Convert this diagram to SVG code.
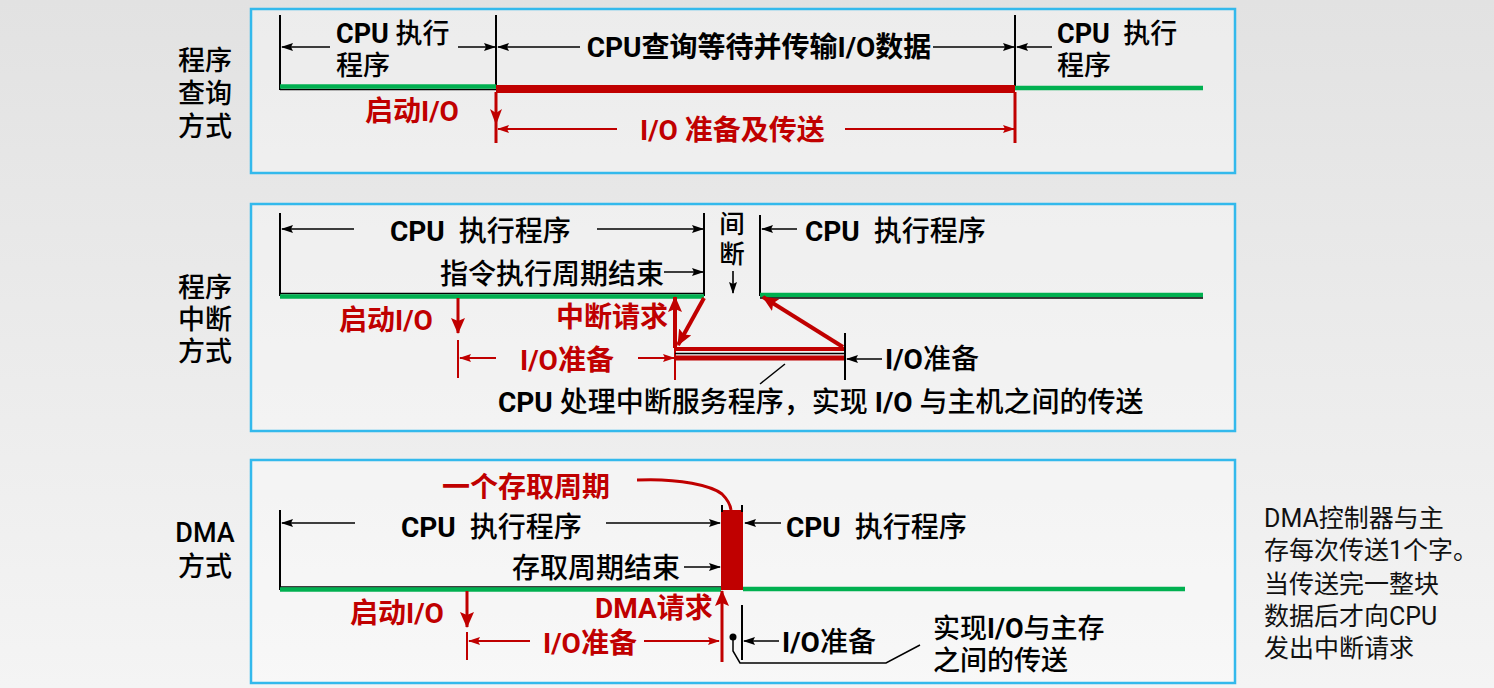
<svg xmlns="http://www.w3.org/2000/svg" width="1494" height="688" viewBox="0 0 1494 688">
<defs>
<linearGradient id="bg" x1="0" y1="0" x2="0" y2="1">
<stop offset="0" stop-color="#e2e2e2"/><stop offset="1" stop-color="#f4f4f4"/>
</linearGradient>
<marker id="ab" markerWidth="12" markerHeight="10" refX="11" refY="5" orient="auto" markerUnits="userSpaceOnUse"><path d="M0,1 L12,5 L0,9 L2,5 z" fill="#000"/></marker>
<marker id="ar" markerWidth="12" markerHeight="10" refX="11" refY="5" orient="auto" markerUnits="userSpaceOnUse"><path d="M0,1 L12,5 L0,9 L2,5 z" fill="#c00000"/></marker>
<marker id="at" markerWidth="16" markerHeight="14" refX="15" refY="7" orient="auto" markerUnits="userSpaceOnUse"><path d="M0,0 L16,7 L0,14 L3,7 z" fill="#c00000"/></marker>
<style>
.panel{fill:#ffffff;fill-opacity:0.35;stroke:#33b9ec;stroke-width:2.5}
.k{stroke:#000;stroke-width:2;fill:none}
.ka{stroke:#000;stroke-width:1.6;fill:none;marker-end:url(#ab)}
.kt{stroke:#000;stroke-width:1.5;fill:none}
.g{stroke:#00b050;stroke-width:4.5;fill:none}
.rl{stroke:#c00000;fill:none}
.ra{stroke:#c00000;stroke-width:2;fill:none;marker-end:url(#ar)}
.rt{stroke:#c00000;fill:none;marker-end:url(#at)}
text{font-family:Roboto,"Noto Sans CJK SC",sans-serif;font-size:28px}
.s{font-size:27px}
.v{font-size:25.5px;text-anchor:middle}
.t{fill:#000;font-weight:500}
.b{font-weight:700}
.r{fill:#c00000;font-weight:700}
.side{fill:#111;font-weight:400;font-size:25px}
.lab{fill:#000;font-weight:500;text-anchor:middle;font-size:27px}
</style>
</defs>
<rect width="1494" height="688" fill="url(#bg)"/>

<g id="labels">
<text class="lab" x="205" y="70">程序</text>
<text class="lab" x="205" y="103">查询</text>
<text class="lab" x="205" y="136">方式</text>
<text class="lab" x="205" y="297">程序</text>
<text class="lab" x="205" y="329">中断</text>
<text class="lab" x="205" y="361">方式</text>
<text class="lab b" x="205" y="542">DMA</text>
<text class="lab" x="205" y="576">方式</text>
</g>

<g id="panel-polling">
<rect class="panel" x="251" y="9" width="984" height="164"/>
<text class="t s" x="336" y="43"><tspan class="b">CPU</tspan> 执行</text>
<text class="t s" x="336" y="75">程序</text>
<text class="t b" x="759" y="57" text-anchor="middle">CPU查询等待并传输I/O数据</text>
<text class="t s" x="1057" y="43"><tspan class="b">CPU</tspan>&#160; 执行</text>
<text class="t s" x="1057" y="75">程序</text>
<text class="r" x="365" y="121">启动I/O</text>
<text class="r" x="640" y="140">I/O 准备及传送</text>
</g>

<g id="panel-interrupt">
<rect class="panel" x="251" y="204" width="984" height="227"/>
<text class="t" x="390" y="241"><tspan class="b">CPU</tspan>&#160; 执行程序</text>
<text class="t" x="440" y="284">指令执行周期结束</text>
<text class="t v" x="732" y="233">间</text>
<text class="t v" x="732" y="263">断</text>
<text class="t" x="805" y="241"><tspan class="b">CPU</tspan>&#160; 执行程序</text>
<text class="r" x="339" y="330">启动I/O</text>
<text class="r" x="556" y="327">中断请求</text>
<text class="r" x="520" y="370">I/O准备</text>
<text class="t" x="885" y="369"><tspan class="b">I/O</tspan>准备</text>
<text class="t" x="498" y="412"><tspan class="b">CPU</tspan> 处理中断服务程序，实现 <tspan class="b">I/O</tspan> 与主机之间的传送</text>
</g>

<g id="panel-dma">
<rect class="panel" x="251" y="460" width="984" height="223"/>
<text class="r" x="442" y="497">一个存取周期</text>
<text class="t" x="401" y="537"><tspan class="b">CPU</tspan>&#160; 执行程序</text>
<text class="t" x="512" y="578">存取周期结束</text>
<text class="t" x="786" y="537"><tspan class="b">CPU</tspan>&#160; 执行程序</text>
<text class="r" x="350" y="623">启动I/O</text>
<text class="r" x="595" y="618">DMA请求</text>
<text class="r" x="543" y="653">I/O准备</text>
<text class="t" x="782" y="652"><tspan class="b">I/O</tspan>准备</text>
<text class="t s" x="933" y="638">实现<tspan class="b">I/O</tspan>与主存</text>
<text class="t s" x="933" y="670">之间的传送</text>
</g>

<g id="note">
<text class="side" x="1264" y="527">DMA控制器与主</text>
<text class="side" x="1264" y="559">存每次传送1个字。</text>
<text class="side" x="1264" y="593">当传送完一整块</text>
<text class="side" x="1264" y="625">数据后才向CPU</text>
<text class="side" x="1264" y="657">发出中断请求</text>
</g>

<g id="connectors">
<!-- panel 1 -->
<line class="k" x1="280" y1="15" x2="280" y2="90"/>
<line class="k" x1="496" y1="15" x2="496" y2="86"/>
<line class="k" x1="1015" y1="15" x2="1015" y2="86"/>
<line class="ka" x1="330" y1="47" x2="282" y2="47"/>
<line class="ka" x1="458" y1="47" x2="495" y2="47"/>
<line class="ka" x1="580" y1="47" x2="498" y2="47"/>
<line class="ka" x1="933" y1="47" x2="1014" y2="47"/>
<line class="ka" x1="1052" y1="47" x2="1017" y2="47"/>
<line class="kt" x1="280" y1="89.5" x2="496" y2="89.5"/>
<line class="g" x1="280" y1="86.5" x2="496" y2="86.5"/>
<line class="rl" stroke-width="8" x1="496" y1="89" x2="1015" y2="89"/>
<line class="g" x1="1015" y1="88" x2="1203" y2="88"/>
<line class="rl" stroke-width="3" x1="496" y1="92" x2="496" y2="143"/>
<polygon points="490,109 496,125 502,109 496,113" fill="#c00000"/>
<line class="rl" stroke-width="3" x1="1015" y1="92" x2="1015" y2="143"/>
<line class="ra" x1="617" y1="129" x2="498" y2="129"/>
<line class="ra" x1="845" y1="129" x2="1014" y2="129"/>

<!-- panel 2 -->
<line class="k" x1="280" y1="213" x2="280" y2="296"/>
<line class="k" x1="704" y1="213" x2="704" y2="296"/>
<line class="k" x1="760" y1="215" x2="760" y2="296"/>
<line class="ka" x1="354" y1="229" x2="282" y2="229"/>
<line class="ka" x1="597" y1="229" x2="703" y2="229"/>
<line class="ka" x1="797" y1="229" x2="762" y2="229"/>
<line class="ka" x1="664" y1="272" x2="703" y2="272"/>
<line class="ka" stroke-width="1.4" x1="733" y1="271" x2="733" y2="293"/>
<line class="kt" x1="280" y1="293.5" x2="704" y2="293.5"/>
<line class="g" x1="280" y1="296.5" x2="704" y2="296.5"/>
<line class="g" x1="760" y1="295" x2="1203" y2="295"/>
<line class="kt" x1="760" y1="298" x2="1203" y2="298"/>
<line class="rt" stroke-width="3" x1="458" y1="298" x2="458" y2="333"/>
<line class="rl" stroke-width="2" x1="458" y1="340" x2="458" y2="378"/>
<line class="ra" x1="496" y1="358" x2="460" y2="358"/>
<line class="ra" x1="638" y1="358" x2="674" y2="358"/>
<line class="rl" stroke-width="2" x1="675" y1="348" x2="675" y2="380"/>
<line class="rt" stroke-width="4" x1="675" y1="348" x2="675" y2="297"/>
<line class="rt" stroke-width="4" x1="704" y1="298" x2="678" y2="345"/>
<line class="rl" stroke-width="4" x1="675" y1="349" x2="845" y2="349"/>
<line class="kt" x1="675" y1="353.5" x2="845" y2="353.5"/>
<line class="rl" stroke-width="5" x1="675" y1="358" x2="845" y2="358"/>
<line class="k" x1="845" y1="333" x2="845" y2="380"/>
<line class="rt" stroke-width="4" x1="843" y1="347" x2="763" y2="297"/>
<line class="ka" x1="882" y1="359" x2="847" y2="359"/>
<line class="kt" x1="785" y1="364" x2="760" y2="384"/>

<!-- panel 3 -->
<path class="rl" stroke-width="3" d="M637,480 C680,478 712,486 722,494 Q730,502 731,510"/>
<rect x="721" y="510" width="22" height="80" fill="#c00000"/>
<line class="k" x1="722" y1="505" x2="722" y2="512"/>
<line class="k" x1="742" y1="505" x2="742" y2="512"/>
<line class="k" x1="280" y1="510" x2="280" y2="590"/>
<line class="ka" x1="355" y1="523" x2="282" y2="523"/>
<line class="ka" x1="606" y1="523" x2="720" y2="523"/>
<line class="ka" x1="781" y1="523" x2="745" y2="523"/>
<line class="ka" x1="684" y1="567" x2="720" y2="567"/>
<line class="kt" x1="280" y1="587" x2="721" y2="587"/>
<line class="g" x1="280" y1="589.5" x2="721" y2="589.5"/>
<line class="g" x1="743" y1="589" x2="1185" y2="589"/>
<line class="rt" stroke-width="3" x1="467" y1="591" x2="467" y2="627"/>
<line class="rl" stroke-width="2" x1="467" y1="632" x2="467" y2="660"/>
<line class="ra" x1="530" y1="641" x2="469" y2="641"/>
<line class="ra" x1="644" y1="641" x2="719" y2="641"/>
<line class="rt" stroke-width="3" x1="722" y1="662" x2="722" y2="591"/>
<line class="k" x1="742" y1="605" x2="742" y2="660"/>
<line class="ka" x1="779" y1="641" x2="744" y2="641"/>
<circle cx="733" cy="637" r="3.5" fill="#000"/>
<polyline class="kt" points="733,637 733,651 740,663 886,663 920,645"/>
</g>
</svg>
